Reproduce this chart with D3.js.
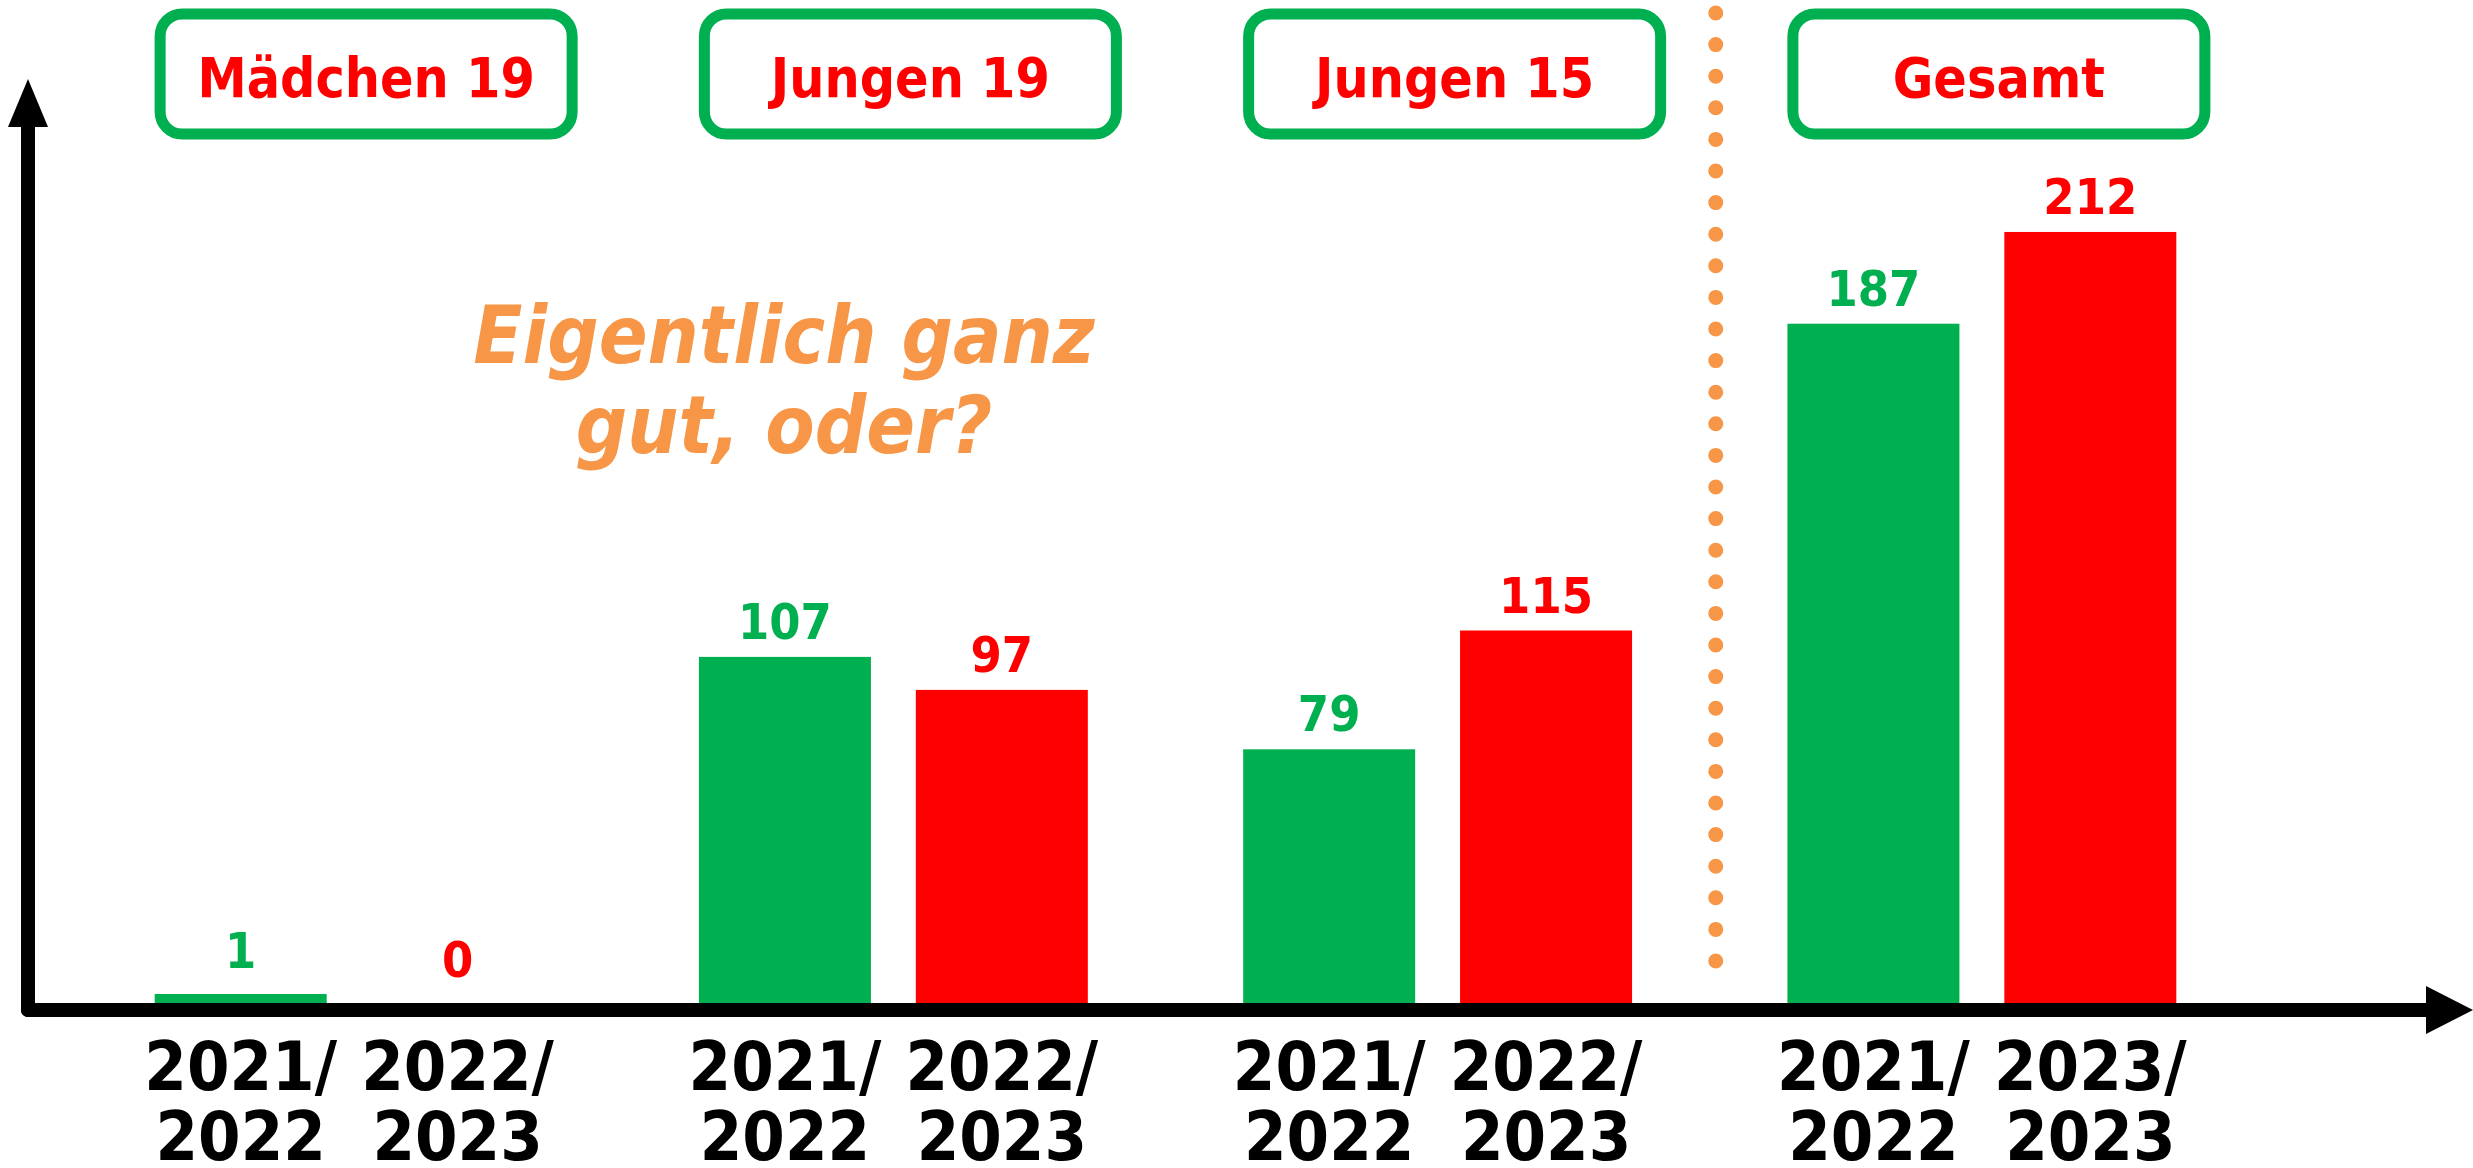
<!DOCTYPE html>
<html>
<head>
<meta charset="utf-8">
<script src="https://cdn.jsdelivr.net/npm/d3@7"></script>
<style>
  body { margin: 0; background: #fff; }
  svg text { font-family: "DejaVu Sans Condensed", "DejaVu Sans", sans-serif; font-weight: bold; font-stretch: condensed; }
</style>
</head>
<body>
<div id="chart"></div>
<script>
// chart data
const groups = ["Mädchen 19", "Jungen 19", "Jungen 15", "Gesamt"];
const seriesOld = [1, 107, 79, 187];   // green
const seriesNew = [0, 97, 115, 212];   // red
const labelsOld = ["2021/|2022", "2021/|2022", "2021/|2022", "2021/|2022"];
const labelsNew = ["2022/|2023", "2022/|2023", "2022/|2023", "2023/|2023"];
const panelOf = [0, 0, 0, 1];   // the "Gesamt" group sits in its own panel
const note = ["Eigentlich ganz", "gut, oder?"];

const config = {
  width: 2473,
  height: 1168,
  baseline: 1010,
  green: "#00B050",
  red: "#FF0000",
  orange: "#F79646"
};

const svg = d3.select("#chart").append("svg")
  .attr("width", config.width)
  .attr("height", config.height);

// one band per group, two bars inside each group
const xGroup = d3.scaleBand()
  .domain(groups)
  .range([77, 2254])
  .padding(0);

const xInner = d3.scaleBand()
  .domain(["old", "new"])
  .range([xGroup.bandwidth() / 2 - 217, xGroup.bandwidth() / 2 + 217])
  .paddingInner(0.207)
  .paddingOuter(0.104);

// the left panel and the total panel were scaled separately
const yScales = [
  d3.scaleLinear().domain([0, 100]).range([config.baseline, config.baseline - 330]),
  d3.scaleLinear().domain([0, 100]).range([config.baseline, config.baseline - 367])
];

const bars = [];
groups.forEach((g, i) => {
  bars.push({ group: g, key: "old", value: seriesOld[i], label: labelsOld[i], color: config.green, panel: panelOf[i] });
  bars.push({ group: g, key: "new", value: seriesNew[i], label: labelsNew[i], color: config.red, panel: panelOf[i] });
});

const minBar = 16;
const barTop = d => {
  const y = yScales[d.panel](d.value);
  if (d.value > 0) return Math.min(y, config.baseline - minBar);
  return config.baseline - 7;
};

const chart = svg.append("g");

chart.selectAll("rect.bar")
  .data(bars.filter(d => d.value > 0))
  .enter()
  .append("rect")
  .attr("class", "bar")
  .attr("x", d => xGroup(d.group) + xInner(d.key))
  .attr("y", d => barTop(d))
  .attr("width", xInner.bandwidth())
  .attr("height", d => config.baseline - barTop(d))
  .style("fill", d => d.color);

// value labels
chart.selectAll("text.value")
  .data(bars)
  .enter()
  .append("text")
  .attr("class", "value")
  .attr("text-anchor", "middle")
  .attr("x", d => xGroup(d.group) + xInner(d.key) + xInner.bandwidth() / 2)
  .attr("y", d => barTop(d) - (d.value < 5 ? 26 : 18))
  .style("font-size", "50px")
  .style("fill", d => d.color)
  .text(d => d.value);

// season labels under the axis, two lines each
const seasonText = chart.selectAll("text.season")
  .data(bars)
  .enter()
  .append("text")
  .attr("class", "season")
  .attr("text-anchor", "middle")
  .style("font-size", "68px")
  .style("fill", "#000");

seasonText.selectAll("tspan")
  .data(d => d.label.split("|").map(t => ({ t: t, d: d })))
  .enter()
  .append("tspan")
  .attr("x", p => xGroup(p.d.group) + xInner(p.d.key) + xInner.bandwidth() / 2)
  .attr("y", (p, i) => 1090 + i * 70)
  .text(p => p.t);

// group boxes on top
const boxes = chart.selectAll("g.box")
  .data(groups)
  .enter()
  .append("g")
  .attr("class", "box")
  .attr("transform", d => `translate(${xGroup(d) + xGroup.bandwidth() / 2 + 17}, 0)`);

boxes.append("rect")
  .attr("x", -206)
  .attr("y", 14)
  .attr("width", 412)
  .attr("height", 120)
  .attr("rx", 22)
  .style("fill", "#fff")
  .style("stroke", config.green)
  .style("stroke-width", 11);

boxes.append("text")
  .attr("text-anchor", "middle")
  .attr("y", 97)
  .style("font-size", "55px")
  .style("fill", config.red)
  .text(d => d);

// dotted divider between the groups and the total
const divX = (xGroup(groups[2]) + xGroup.bandwidth() + xGroup(groups[3])) / 2 + 6;
chart.append("line")
  .attr("x1", divX).attr("x2", divX)
  .attr("y1", 13).attr("y2", 985)
  .style("stroke", config.orange)
  .style("stroke-width", 15)
  .style("stroke-linecap", "round")
  .style("stroke-dasharray", "0 31.6");

// axes with arrow heads
const axisX0 = 28;
chart.append("path")
  .attr("d", `M${axisX0},${config.baseline} H2428`)
  .style("stroke", "#000")
  .style("stroke-width", 14)
  .style("stroke-linecap", "round")
  .style("fill", "none");
chart.append("path")
  .attr("d", `M2426,${config.baseline - 24} L2473,${config.baseline} L2426,${config.baseline + 24} Z`)
  .style("fill", "#000");

chart.append("path")
  .attr("d", `M${axisX0},${config.baseline} V122`)
  .style("stroke", "#000")
  .style("stroke-width", 14)
  .style("stroke-linecap", "round")
  .style("fill", "none");
chart.append("path")
  .attr("d", `M${axisX0 - 20},127 L${axisX0},79 L${axisX0 + 20},127 Z`)
  .style("fill", "#000");

// annotation
chart.append("text")
  .attr("text-anchor", "middle")
  .style("font-size", "80px")
  .style("font-style", "italic")
  .style("fill", config.orange)
  .selectAll("tspan")
  .data(note)
  .enter()
  .append("tspan")
  .attr("x", 784)
  .attr("y", (d, i) => 363 + i * 90)
  .text(d => d);
</script>
</body>
</html>
